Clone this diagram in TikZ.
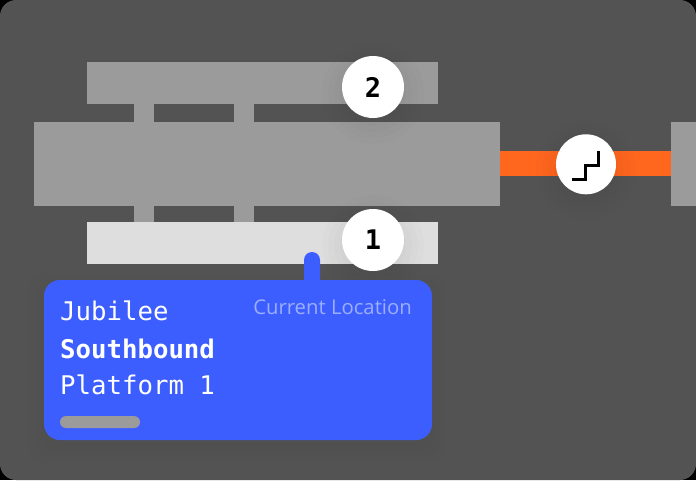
\documentclass[tikz,border=0pt]{standalone}
\usepackage{fontspec}
\setmonofont{DejaVu Sans Mono}
\setsansfont{Open Sans}
\definecolor{bgc}{HTML}{535353}
\definecolor{platc}{HTML}{9B9B9B}
\definecolor{lightc}{HTML}{DEDEDE}
\definecolor{bluec}{HTML}{3D5EFF}
\definecolor{orangec}{HTML}{FF671F}
\definecolor{mutedc}{HTML}{9BAEFF}
\tikzset{
  block/.style={fill=platc,draw=none},
  badge/.style={circle,fill=white,draw=none,minimum size=62pt,inner sep=0pt,font=\fontsize{27}{27}\selectfont\ttfamily\bfseries,text=black},
  cardtext/.style={anchor=base west,inner sep=0pt,text=white,font=\fontsize{25.7}{26}\selectfont\ttfamily},
}
\newcommand{\softshadow}[3]{%
  \foreach \k in {2,8,14,20}{\fill[black,opacity=0.012] (#1,#2) circle[radius=#3+\k];}}
\begin{document}
\begin{tikzpicture}[x=1pt,y=-1pt]
\useasboundingbox (0,0) rectangle (696,480);
\fill[black] (0,0) rectangle (696,480);
\fill[bgc,rounded corners=16pt] (0,0) rectangle (696,480);
% platforms
\fill[block] (87,62) rectangle (438,104);
\fill[block] (134,104) rectangle (154,122);
\fill[block] (234,104) rectangle (254,122);
\fill[block] (34,122) rectangle (500,206);
\fill[block] (134,206) rectangle (154,222);
\fill[block] (234,206) rectangle (254,222);
\fill[lightc] (87,222) rectangle (437.5,264);
\fill[block] (670.5,122) rectangle (696,206);
\fill[orangec] (500,151) rectangle (670.5,176);
% shadows
\softshadow{373}{93}{31}
\softshadow{373}{246}{31}
\softshadow{586}{170}{30}
% badges
\node[badge] (two) at (373,87) {2};
\node[badge] (one) at (373,240) {1};
\node[badge,minimum size=60pt] (stairs) at (586,164.3) {};
\draw[black,line width=3pt] (572,179) -- (585.5,179) -- (585.5,165) -- (598,165) -- (598,150.5);
% card shadow
\foreach \k in {3,9,15}{\fill[black,opacity=0.012,rounded corners=16pt] (44-\k,280-\k+8) rectangle (432+\k,440+\k+8);}
% card
\fill[bluec,rounded corners=8pt] (304,252) rectangle (320,290);
\fill[bluec,rounded corners=16pt] (44,280) rectangle (432,440);
\node[cardtext] (line) at (60,320) {Jubilee};
\node[cardtext,font=\fontsize{25.7}{26}\selectfont\ttfamily\bfseries] (dir) at (60,358) {Southbound};
\node[cardtext] (plat) at (60,394) {Platform 1};
\node[anchor=base east,inner sep=0pt,text=mutedc,font=\fontsize{20.3}{20}\selectfont\sffamily] (cur) at (412,314) {Current Location};
\fill[platc,rounded corners=6pt] (60,416) rectangle (140,428);
\end{tikzpicture}
\end{document}
